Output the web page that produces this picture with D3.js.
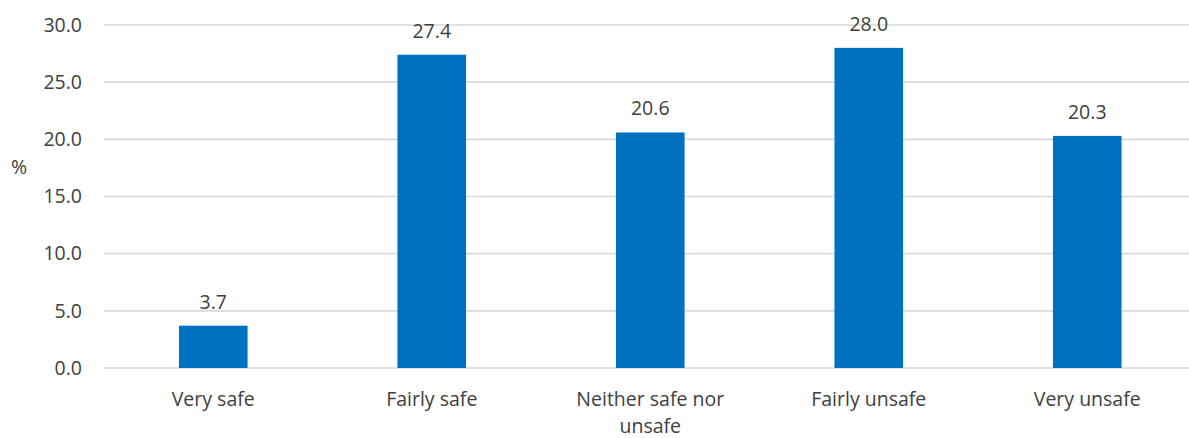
<!DOCTYPE html>
<html><head><meta charset="utf-8">
<script src="https://cdn.jsdelivr.net/npm/d3@7"></script>
<style>body{margin:0;background:#fff;} svg{display:block;} text{font-family:"Open Sans",Lato,sans-serif;fill:#404040;}</style>
</head><body>
<svg id="c" width="1189" height="438"></svg>
<script>
const categories = ["Very safe","Fairly safe","Neither safe nor unsafe","Fairly unsafe","Very unsafe"];
const labelLines = [["Very safe"],["Fairly safe"],["Neither safe nor","unsafe"],["Fairly unsafe"],["Very unsafe"]];
const values = [3.7,27.4,20.6,28.0,20.3];
const yTicks = [0,5,10,15,20,25,30];

const svg = d3.select("#c");
const mLeft = 104, mRight = 1196.5, mTop = 25, mBottom = 368;
const x = d3.scaleBand().domain(categories).range([mLeft,mRight]).paddingInner(0.686).paddingOuter(0.343);
const y = d3.scaleLinear().domain([0,30]).range([mBottom,mTop]);
const fs = "19.5px";

const grid = svg.append("g");
grid.selectAll("line").data(yTicks).join("line")
  .attr("x1",mLeft).attr("x2",1189)
  .attr("y1",d=>y(d)).attr("y2",d=>y(d))
  .attr("stroke","#d9d9d9").attr("stroke-width",1.6);

const yAxis = d3.axisLeft(y).tickValues(yTicks).tickFormat(d3.format(".1f")).tickSize(0).tickPadding(22);
const ya = svg.append("g").attr("transform",`translate(${mLeft},0)`).call(yAxis);
ya.select(".domain").remove();
ya.selectAll("text").style("font-size",fs).attr("fill","#404040").attr("font-family","Open Sans");

svg.append("text").attr("x",11).attr("y",174).style("font-size",fs).text("%");

svg.append("g").selectAll("rect").data(values).join("rect")
  .attr("x",(d,i)=>x(categories[i])).attr("width",x.bandwidth())
  .attr("y",d=>y(d)).attr("height",d=>y(0)-y(d)).attr("fill","#0070c0");

svg.append("g").selectAll("text").data(values).join("text")
  .attr("x",(d,i)=>x(categories[i])+x.bandwidth()/2).attr("y",d=>y(d)-17)
  .attr("text-anchor","middle").style("font-size",fs).text(d=>d3.format(".1f")(d));

const xl = svg.append("g").selectAll("text").data(categories).join("text")
  .attr("x",d=>x(d)+x.bandwidth()/2).attr("y",406)
  .attr("text-anchor","middle").style("font-size",fs);
xl.each(function(d,i){
  d3.select(this).selectAll("tspan").data(labelLines[i]).join("tspan")
    .attr("x",x(d)+x.bandwidth()/2).attr("dy",(t,j)=>j===0?0:27).text(t=>t);
});
</script>
</body></html>
